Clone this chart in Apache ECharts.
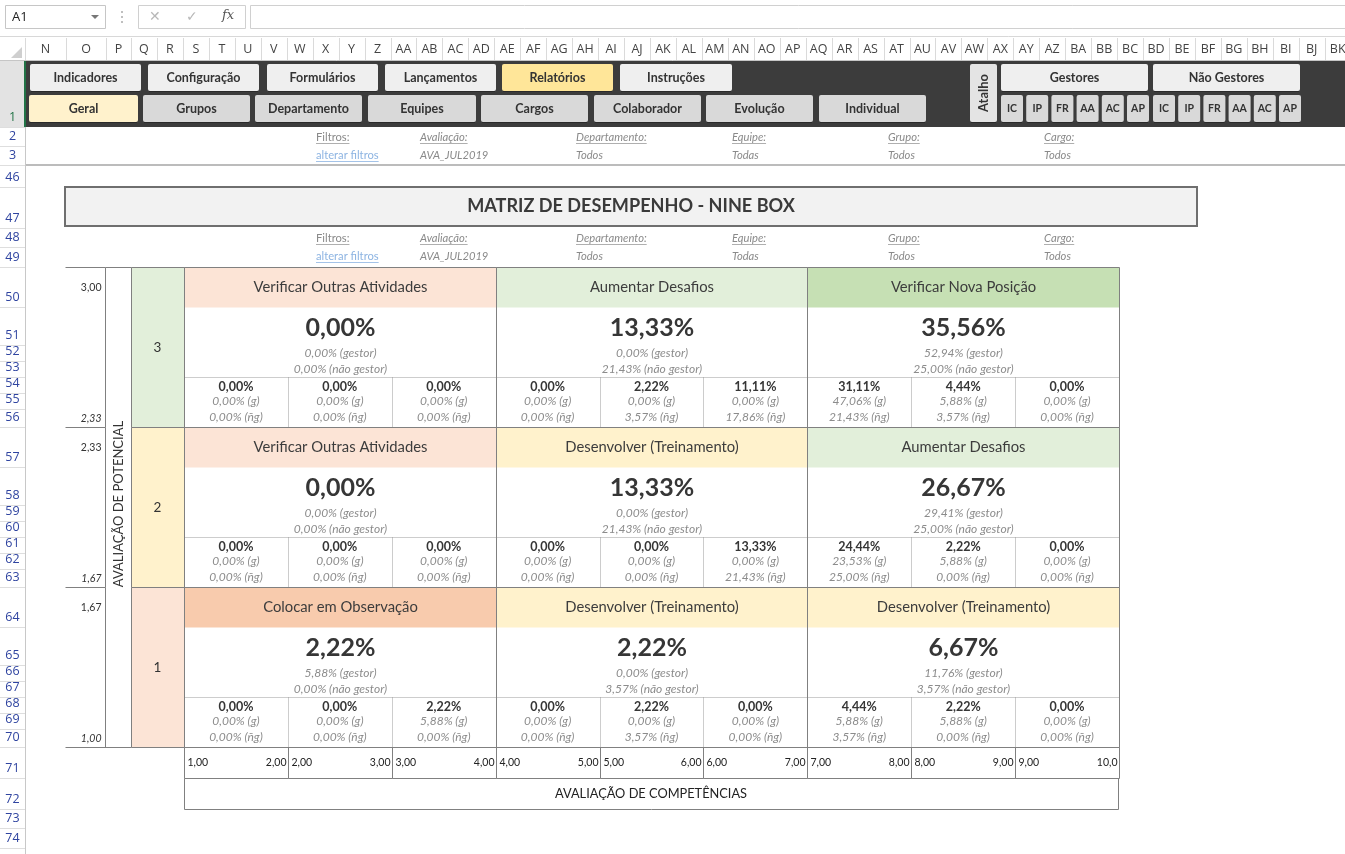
<!DOCTYPE html>
<html><head><meta charset="utf-8">
<script src="https://cdn.jsdelivr.net/npm/echarts@6/dist/echarts.min.js"></script>
<style>html,body{margin:0;padding:0;background:#fff}#c{width:1345px;height:854px}</style>
</head><body><div id="c"></div>
<script>
// ================= DATA =================
const competenciaTicks = ['1,00','2,00','3,00','4,00','5,00','6,00','7,00','8,00','9,00','10,0'];
const competenciaBounds = [1,2,3,4,5,6,7,8,9,10];
const potencialBounds = [1, 5/3, 7/3, 3];
const potencialTicks = ['1,00','1,67','2,33','3,00'];
const potencialLevels = ['1','2','3'];
// rows: potential level 1 (bottom) .. 3 (top); columns: competency band 1..3
const boxTitles = [
  ['Colocar em Observação','Desenvolver (Treinamento)','Desenvolver (Treinamento)'],
  ['Verificar Outras Atividades','Desenvolver (Treinamento)','Aumentar Desafios'],
  ['Verificar Outras Atividades','Aumentar Desafios','Verificar Nova Posição']
];
const boxTotal     = [[2.22, 2.22, 6.67],[0.00,13.33,26.67],[0.00,13.33,35.56]];
const boxGestor    = [[5.88, 0.00,11.76],[0.00, 0.00,29.41],[0.00, 0.00,52.94]];
const boxNaoGestor = [[0.00, 3.57, 3.57],[0.00,21.43,25.00],[0.00,21.43,25.00]];
const subTotal = [
  [0.00,0.00,2.22, 0.00,2.22,0.00, 4.44,2.22,0.00],
  [0.00,0.00,0.00, 0.00,0.00,13.33, 24.44,2.22,0.00],
  [0.00,0.00,0.00, 0.00,2.22,11.11, 31.11,4.44,0.00]
];
const subGestor = [
  [0.00,0.00,5.88, 0.00,0.00,0.00, 5.88,5.88,0.00],
  [0.00,0.00,0.00, 0.00,0.00,0.00, 23.53,5.88,0.00],
  [0.00,0.00,0.00, 0.00,0.00,0.00, 47.06,5.88,0.00]
];
const subNaoGestor = [
  [0.00,0.00,0.00, 0.00,3.57,0.00, 3.57,0.00,0.00],
  [0.00,0.00,0.00, 0.00,0.00,21.43, 25.00,0.00,0.00],
  [0.00,0.00,0.00, 0.00,3.57,17.86, 21.43,3.57,0.00]
];
const chartTitle = 'MATRIZ DE DESEMPENHO - NINE BOX';
const xAxisTitle = 'AVALIAÇÃO DE COMPETÊNCIAS';
const yAxisTitle = 'AVALIAÇÃO DE POTENCIAL';
const filterLabels = ['Filtros:','Avaliação:','Departamento:','Equipe:','Grupo:','Cargo:'];
const filterValues = ['alterar filtros','AVA_JUL2019','Todos','Todas','Todos','Todos'];
const menuRow1 = ['Indicadores','Configuração','Formulários','Lançamentos','Relatórios','Instruções'];
const menuRow2 = ['Geral','Grupos','Departamento','Equipes','Cargos','Colaborador','Evolução','Individual'];
const shortcutGroups = ['Gestores','Não Gestores'];
const shortcutCodes = ['IC','IP','FR','AA','AC','AP'];
const colLetters = ['N','O','P','Q','R','S','T','U','V','W','X','Y','Z',
  'AA','AB','AC','AD','AE','AF','AG','AH','AI','AJ','AK','AL','AM','AN','AO','AP','AQ','AR','AS','AT','AU','AV','AW','AX','AY','AZ',
  'BA','BB','BC','BD','BE','BF','BG','BH','BI','BJ','BK'];
const rowLabels = ['1','2','3','46','47','48','49','50','51','52','53','54','55','56','57','58','59','60','61','62','63','64','65','66','67','68','69','70','71','72','73','74'];

// ================= STYLE / LAYOUT =================
const F = 'Lato';
const UI = '"Open Sans"';
const titleColors = {
  'Verificar Outras Atividades':'#FCE4D6',
  'Aumentar Desafios':'#E2EFDA',
  'Verificar Nova Posição':'#C6E0B4',
  'Desenvolver (Treinamento)':'#FFF2CC',
  'Colocar em Observação':'#F8CBAD'
};
const levelColors = ['#FCE4D6','#FFF2CC','#E2EFDA'];
const rowBottoms = [127,146,165,187,228,247,267,307,345,361,377,393,409,427,467,505,521,537,553,569,587,627,665,681,697,713,729,747,778,809,828,848];
const BORDER = '#808080';
const SMALL = 12;
const pct = v => v.toFixed(2).replace('.', ',') + '%';

const mctx = document.createElement('canvas').getContext('2d');
function measure(text, font){ mctx.font = font; return mctx.measureText(text).width; }

const G = [];
function T(x, y, text, o){
  o = o || {};
  G.push({type:'text', x:x, y:y, rotation:o.rot||0, silent:true, z:o.z||10,
    style:{text:text, x:0, y:0, fill:o.fill||'#333', fontSize:o.size||12, fontFamily:o.family||F,
      fontWeight:o.weight||'normal', fontStyle:o.style||'normal', align:o.align||'left', verticalAlign:'middle'}});
}
function R(x, y, w, h, fill, stroke, lw, r, z){
  G.push({type:'rect', silent:true, z:z||1, shape:{x:x, y:y, width:w, height:h, r:r||0},
    style:{fill:fill||'none', stroke:stroke||'none', lineWidth:lw||1}});
}
function L(x1, y1, x2, y2, stroke, lw, dash, z){
  G.push({type:'line', silent:true, z:z||5, shape:{x1:x1, y1:y1, x2:x2, y2:y2},
    style:{stroke:stroke, lineWidth:lw||1, lineDash:dash||null}});
}

// ---- formula bar ----
R(5.5,5.5,100,23,'#fff','#c6c6c6');
T(12,17,'A1',{size:13,family:UI,fill:'#222'});
G.push({type:'polygon', silent:true, z:5, shape:{points:[[91,15],[99,15],[95,19]]}, style:{fill:'#777'}});
[12,17,22].forEach(y=>G.push({type:'circle',silent:true,z:5,shape:{cx:122,cy:y,r:1},style:{fill:'#aaa'}}));
R(138.5,5.5,107,23,'#fff','#d0d0d0');
T(155,17,'✕',{size:14,family:UI,fill:'#b8b8b8',align:'center'});
T(192,17,'✓',{size:14,family:UI,fill:'#b8b8b8',align:'center'});
T(228,16,'fx',{size:13,family:'"DejaVu Serif"',style:'italic',fill:'#555',align:'center'});
R(250.5,5.5,1100,23,'#fff','#d0d0d0');

// ---- column header ----
L(0,36.5,1345,36.5,'#d8d8d8');
L(0,60.5,1345,60.5,'#c6c6c6');
G.push({type:'polygon', silent:true, z:5, shape:{points:[[22,47],[22,58],[11,58]]}, style:{fill:'#cfcfcf'}});
const colBounds = [25,66,106,131];
for (let k = 4; k <= colLetters.length; k++) colBounds.push(131 + 25.95*(k-3));
colLetters.forEach((l,i)=>{
  const a = colBounds[i], b = colBounds[i+1];
  T((a+b)/2, 49, l, {size:12.5, family:UI, fill:'#444', align:'center'});
  L(Math.round(b)+0.5, 38, Math.round(b)+0.5, 60, '#dadada');
});
L(25.5,38,25.5,60,'#dadada');

// ---- row header ----
R(0,61,25,66,'#e3e3e3');
rowLabels.forEach((lab,i)=>{
  const b = rowBottoms[i];
  T(12.5, b-9.5, lab, {size:12.5, family:UI, fill: i===0 ? '#217346' : '#2f44a0', align:'center'});
  L(0, b+0.5, 25, b+0.5, '#dedede');
});
L(25.5,60,25.5,854,'#c8c8c8');
L(25,61,25,127,'#217346',2,null,6);

// ---- dark menu band ----
R(26,61,1319,66,'#3c3c3c');
function BTN(x1, x2, y1, y2, label, fill, rot, size){
  R(x1, y1, x2-x1, y2-y1, fill, null, 1, 2, 2);
  L(x1+1, y2+0.5, x2-1, y2+0.5, '#2a2a2a', 1, null, 3);
  T((x1+x2)/2, (y1+y2)/2, label, {size:size||12.5, weight:'bold', fill:'#333', align:'center', rot:rot||0});
}
const r1x = [[30,141],[148,259],[267,378],[385,496],[502,613],[620,732]];
menuRow1.forEach((m,i)=>BTN(r1x[i][0], r1x[i][1], 64, 91, m, m==='Relatórios' ? '#FFE699' : '#efefef'));
const r2x = [[29,138],[143,250],[255,362],[368,476],[481,588],[594,701],[706,813],[819,926]];
menuRow2.forEach((m,i)=>BTN(r2x[i][0], r2x[i][1], 95, 122, m, m==='Geral' ? '#FFF2CC' : '#d9d9d9'));
BTN(970, 997, 64, 122, 'Atalho', '#e4e4e4', Math.PI/2, 13);
BTN(1001, 1148, 64, 91, shortcutGroups[0], '#efefef');
BTN(1153, 1300, 64, 91, shortcutGroups[1], '#efefef');
[1001, 1153].forEach(base=>{
  shortcutCodes.forEach((c,i)=>{
    const x1 = base + i*25.2;
    BTN(x1, x1+22, 95, 122, c, '#d9d9d9', 0, 10.5);
  });
});

// ---- filter rows ----
const fx = [316,420,576,732,888,1044];
const FS = 11.2;
function filters(yl, yv){
  filterLabels.forEach((lab,i)=>{
    const ital = i>0;
    const fnt = (ital?'italic ':'') + FS + 'px Lato';
    T(fx[i], yl, lab, {size:FS, style: ital?'italic':'normal', fill:'#8a8a8a'});
    L(fx[i], yl+6.5, fx[i]+measure(lab,fnt), yl+6.5, '#9a9a9a', 0.8);
    const v = filterValues[i];
    T(fx[i], yv, v, {size:FS, style: i>0?'italic':'normal', fill: i===0 ? '#8db4e2' : '#8a8a8a'});
    if (i===0) L(fx[i], yv+6.5, fx[i]+measure(v, FS + 'px Lato'), yv+6.5, '#8db4e2', 0.8);
  });
}
filters(137,155);
L(26,165,1345,165,'#a6a6a6',1.5);

// ---- title box ----
R(65,187,1132,39,'#f2f2f2','#6f6f6f',2);
T(631,206.5,chartTitle,{size:18.1,weight:'bold',fill:'#3a3a3a',align:'center'});
filters(238,256);

// ---- axis titles ----
T(118.5,504,yAxisTitle,{size:13,fill:'#333',align:'center',rot:Math.PI/2});
R(184.5,778.5,934,31,'#fff',BORDER,1,0,1);
T(651,794,xAxisTitle,{size:12.8,fill:'#222',align:'center'});

// ================= CHART =================
const boxData = [], subData = [], levelData = [], tickData = [];
for (let r = 0; r < 3; r++) {
  for (let c = 0; c < 3; c++) boxData.push([c, r]);
  for (let i = 0; i < 9; i++) subData.push([i, r]);
  levelData.push([r, r]);
}
for (let i = 0; i < 9; i++) tickData.push([i, 0]);

function txt(x, y, text, size, o){
  o = o || {};
  return {type:'text', style:{x:x, y:y, text:text, fontSize:size, fontFamily:F, fontWeight:o.weight||'normal',
    fontStyle:o.style||'normal', fill:o.fill||'#333', align:o.align||'center', verticalAlign:'middle'}};
}
function ln(x1,y1,x2,y2,stroke,dash){
  return {type:'line', shape:{x1:x1,y1:y1,x2:x2,y2:y2}, style:{stroke:stroke, lineWidth:1, lineDash:dash||null}};
}

const chart = echarts.init(document.getElementById('c'), null, {renderer:'canvas'});
chart.setOption({
  backgroundColor:'#fff',
  animation:false,
  graphic: G,
  grid:{left:184, right:226, top:267, bottom:107},
  xAxis:{type:'value', min:1, max:10, show:false},
  yAxis:{type:'value', min:1, max:3, show:false},
  series:[
    { // nine boxes
      type:'custom', coordinateSystem:'cartesian2d', clip:false, silent:true, z:3, data:boxData,
      renderItem:function(params, api){
        const c = api.value(0), r = api.value(1);
        const tl = api.coord([competenciaBounds[c*3], potencialBounds[r+1]]);
        const br = api.coord([competenciaBounds[c*3+3], potencialBounds[r]]);
        const x0 = Math.round(tl[0])+0.5, y0 = Math.round(tl[1])+0.5;
        const x1 = Math.round(br[0])+0.5, y1 = Math.round(br[1])+0.5;
        const cx = (x0+x1)/2, title = boxTitles[r][c];
        return {type:'group', children:[
          {type:'rect', shape:{x:x0, y:y0, width:x1-x0, height:y1-y0}, style:{fill:'#fff'}},
          {type:'rect', shape:{x:x0, y:y0, width:x1-x0, height:40}, style:{fill:titleColors[title]}},
          txt(cx, y0+20, title, 14.8, {fill:'#3c3c3c'}),
          txt(cx, y0+60, pct(boxTotal[r][c]), 25, {weight:'bold', fill:'#363636'}),
          txt(cx, y0+86, pct(boxGestor[r][c]) + ' (gestor)', SMALL, {style:'italic', fill:'#8c8c8c'}),
          txt(cx, y0+102, pct(boxNaoGestor[r][c]) + ' (não gestor)', SMALL, {style:'italic', fill:'#8c8c8c'}),
          ln(x0, y0+110, x1, y0+110, '#9a9a9a', [1,1]),
          {type:'rect', z2:5, shape:{x:x0, y:y0, width:x1-x0, height:y1-y0}, style:{fill:'none', stroke:BORDER, lineWidth:1}}
        ]};
      }
    },
    { // 27 sub cells
      type:'custom', coordinateSystem:'cartesian2d', clip:false, silent:true, z:4, data:subData,
      renderItem:function(params, api){
        const i = api.value(0), r = api.value(1);
        const tl = api.coord([competenciaBounds[i], potencialBounds[r+1]]);
        const br = api.coord([competenciaBounds[i+1], potencialBounds[r]]);
        const y0 = Math.round(tl[1])+0.5, y1 = Math.round(br[1]);
        const cx = (tl[0]+br[0])/2;
        const ch = [
          txt(cx, y0+119, pct(subTotal[r][i]), 12.5, {weight:'bold', fill:'#363636'}),
          txt(cx, y0+134, pct(subGestor[r][i]) + ' (g)', SMALL, {style:'italic', fill:'#8c8c8c'}),
          txt(cx, y0+150, pct(subNaoGestor[r][i]) + ' (ñg)', SMALL, {style:'italic', fill:'#8c8c8c'})
        ];
        if (i % 3 !== 2) {
          const xr = Math.round(br[0])+0.5;
          ch.push(ln(xr, y0+110, xr, y1, '#9a9a9a', [1,1]));
        }
        return {type:'group', children:ch};
      }
    },
    { // potential levels (row labels + left ticks)
      type:'custom', coordinateSystem:'cartesian2d', clip:false, silent:true, z:3, data:levelData,
      renderItem:function(params, api){
        const r = api.value(0);
        const tl = api.coord([competenciaBounds[0], potencialBounds[r+1]]);
        const br = api.coord([competenciaBounds[0], potencialBounds[r]]);
        const x0 = Math.round(tl[0])+0.5, y0 = Math.round(tl[1])+0.5, y1 = Math.round(br[1])+0.5;
        const ch = [
          {type:'rect', shape:{x:x0-53, y:y0, width:53, height:y1-y0}, style:{fill:levelColors[r], stroke:BORDER, lineWidth:1}},
          txt(x0-27, (y0+y1)/2, potencialLevels[r], 13.5, {fill:'#333'}),
          txt(x0-83, y0+20, potencialTicks[r+1], 10.5, {align:'right', fill:'#333'}),
          txt(x0-83, y1-9, potencialTicks[r], 10.5, {align:'right', style:'italic', fill:'#333'}),
          ln(x0-119, y0, x0-79, y0, BORDER),
          ln(x0-79, y0, x0-79, y1, BORDER)
        ];
        if (r === 2) ch.push(ln(x0-79, y0, x0-53, y0, BORDER));
        if (r === 0) ch.push(ln(x0-119, y1, x0-53, y1, BORDER));
        return {type:'group', children:ch};
      }
    },
    { // competency tick cells
      type:'custom', coordinateSystem:'cartesian2d', clip:false, silent:true, z:3, data:tickData,
      renderItem:function(params, api){
        const i = api.value(0);
        const a = api.coord([competenciaBounds[i], potencialBounds[0]]);
        const b = api.coord([competenciaBounds[i+1], potencialBounds[0]]);
        const x0 = Math.round(a[0])+0.5, x1 = Math.round(b[0])+0.5, y0 = Math.round(a[1])+0.5;
        return {type:'group', children:[
          {type:'rect', shape:{x:x0, y:y0, width:x1-x0, height:31}, style:{fill:'#fff', stroke:BORDER, lineWidth:1}},
          txt(x0+3, y0+15, competenciaTicks[i], 10.5, {align:'left', fill:'#222'}),
          txt(x1-2, y0+15, competenciaTicks[i+1], 10.5, {align:'right', fill:'#222'})
        ]};
      }
    }
  ]
});
</script>
</body></html>
